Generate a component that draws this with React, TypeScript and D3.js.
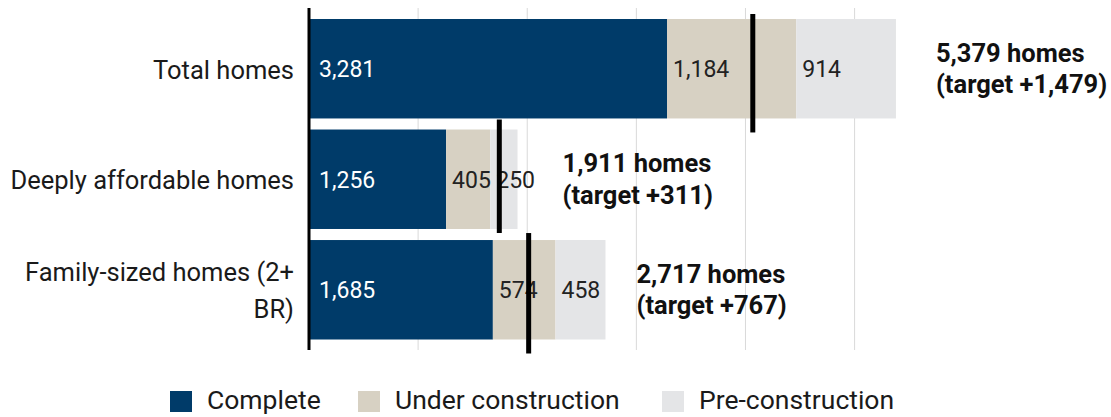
import React from "react";
import * as d3 from "d3";

const categories = ["Total homes", "Deeply affordable homes", "Family-sized homes (2+ BR)"];
const categoryLines = [["Total homes"], ["Deeply affordable homes"], ["Family-sized homes (2+", "BR)"]];
const seriesNames = ["Complete", "Under construction", "Pre-construction"];
const complete = [3281, 1256, 1685];
const underConstruction = [1184, 405, 574];
const preConstruction = [914, 250, 458];
const targets = [4067, 1744, 2013];
const annotationLine1 = ["5,379 homes", "1,911 homes", "2,717 homes"];
const annotationLine2 = ["(target +1,479)", "(target +311)", "(target +767)"];
const gridTicks = [1000, 2000, 3000, 4000, 5000];

const colors = ["#003b69", "#d7d1c3", "#e4e5e7"];
const labelColors = ["#ffffff", "#222222", "#222222"];

const W = 1111;
const H = 417;
const FONT = "Roboto, 'Noto Sans', sans-serif";

// layout tweaks (not data)
const annotationDx = [40, 45, 31];
const targetExt = [[-5, 14], [-10, 4], [-7, 14]];
const legendX = [170, 358, 662];

export default function App() {
  const x = d3.scaleLinear().domain([0, 5000]).range([309, 854.6]);
  const y = d3.scaleBand<string>().domain(categories).range([19, 339.5]).paddingInner(0.1).paddingOuter(0);
  const bw = y.bandwidth();

  const rows = categories.map((c, i) => {
    const vals = [complete[i], underConstruction[i], preConstruction[i]];
    let acc = 0;
    const segs = vals.map((v, k) => {
      const s = { x0: acc, x1: acc + v, v, k };
      acc += v;
      return s;
    });
    return { c, i, segs, total: acc };
  });

  return (
    <div style={{ position: "fixed", left: 0, top: 0, width: W, height: H, background: "#fff" }}>
      <svg width={W} height={H} style={{ display: "block" }} fontFamily={FONT}>
        {gridTicks.map((t) => (
          <line key={t} x1={x(t)} x2={x(t)} y1={8} y2={350} stroke="#d9d9d9" strokeWidth={1} />
        ))}
        {rows.map((r) => {
          const y0 = y(r.c)!;
          const cy = y0 + bw / 2;
          return (
            <g key={r.c}>
              {r.segs.map((s) => (
                <rect key={s.k} x={x(s.x0)} y={y0} width={x(s.x1) - x(s.x0)} height={bw} fill={colors[s.k]} />
              ))}
              {r.segs.map((s) => (
                <text
                  key={"t" + s.k}
                  x={x(s.x0) + (s.k === 0 ? 10 : 6)}
                  y={cy + 1}
                  dominantBaseline="central"
                  fontSize={23}
                  fill={labelColors[s.k]}
                >
                  {d3.format(",")(s.v)}
                </text>
              ))}
              <line
                x1={x(targets[r.i])}
                x2={x(targets[r.i])}
                y1={y0 + targetExt[r.i][0]}
                y2={y0 + bw + targetExt[r.i][1]}
                stroke="#000"
                strokeWidth={5}
              />
              <text x={x(r.total) + annotationDx[r.i]} y={cy - 7} fontSize={25.5} fontWeight={700} fill="#111">
                {annotationLine1[r.i]}
              </text>
              <text x={x(r.total) + annotationDx[r.i]} y={cy + 24.5} fontSize={25.5} fontWeight={700} fill="#111">
                {annotationLine2[r.i]}
              </text>
              {categoryLines[r.i].map((ln, j, arr) => (
                <text
                  key={"c" + j}
                  x={294}
                  y={cy + 10 + (j - (arr.length - 1) / 2) * 36.7}
                  textAnchor="end"
                  fontSize={25.5}
                  fill="#1a1a1a"
                >
                  {ln}
                </text>
              ))}
            </g>
          );
        })}
        <line x1={x(0)} x2={x(0)} y1={8} y2={350} stroke="#000" strokeWidth={3} />
        {seriesNames.map((n, k) => (
          <g key={n}>
            <rect x={legendX[k]} y={391} width={22} height={21} fill={colors[k]} />
            <text x={legendX[k] + 37} y={409} fontSize={26.5} fill="#1a1a1a">
              {n}
            </text>
          </g>
        ))}
      </svg>
    </div>
  );
}
